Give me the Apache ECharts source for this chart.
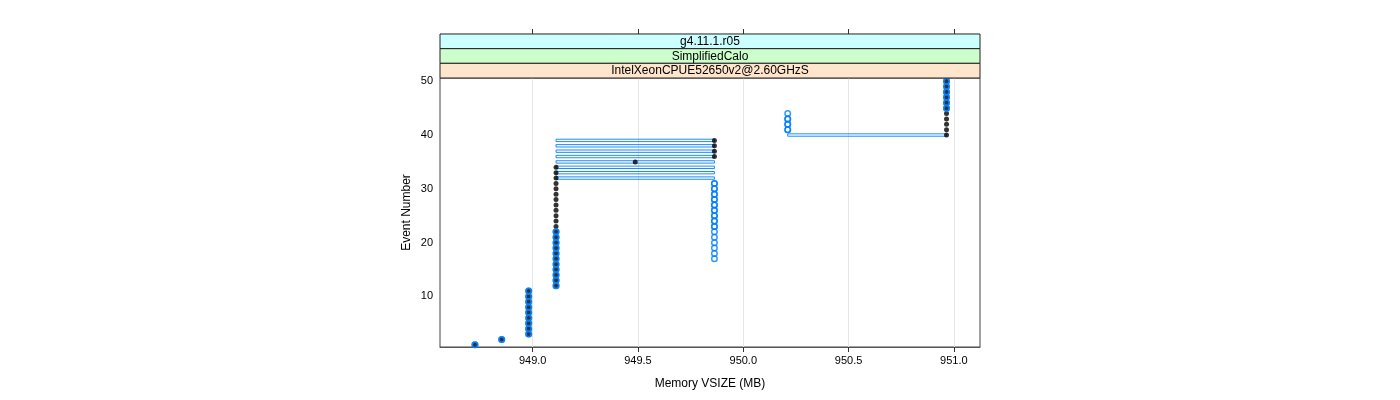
<!DOCTYPE html>
<html>
<head>
<meta charset="utf-8">
<script src="https://cdn.jsdelivr.net/npm/echarts@6/dist/echarts.min.js"></script>
<style>html,body{margin:0;padding:0;background:#fff}#c{width:1400px;height:400px}</style>
</head>
<body>
<div id="c"></div>
<script>
// ---- data ----
const eventNumbers = [1,2,3,4,5,6,7,8,9,10,11,12,13,14,15,16,17,18,19,20,21,22,23,24,25,26,27,28,29,30,31,32,33,34,35,36,37,38,39,40,41,42,43,44,45,46,47,48,49,50];
const blackVsize = [948.726,948.853,948.981,948.981,948.981,948.981,948.981,948.981,948.981,948.981,948.981,
  949.111,949.111,949.111,949.111,949.111,949.111,949.111,949.111,949.111,949.111,949.111,949.111,949.111,949.111,949.111,949.111,949.111,949.111,949.111,949.111,949.111,949.111,949.111,
  949.487,949.863,949.863,949.863,949.863,
  950.965,950.965,950.965,950.965,950.965,950.965,950.965,950.965,950.965,950.965,950.965];

const blueEvents = [1,2,3,4,5,6,7,8,9,10,11,12,13,14,15,16,17,18,19,20,21,22,
  17,18,19,20,21,22,23,24,25,26,27,28,29,30,31,41,42,43,44,45,46,47,48,49,50];
const blueVsize = [948.726,948.853,948.981,948.981,948.981,948.981,948.981,948.981,948.981,948.981,948.981,
  949.111,949.111,949.111,949.111,949.111,949.111,949.111,949.111,949.111,949.111,949.111,
  949.863,949.863,949.863,949.863,949.863,949.863,949.863,949.863,949.863,949.863,949.863,949.863,949.863,949.863,949.863,
  950.211,950.211,950.211,950.211,950.965,950.965,950.965,950.965,950.965,950.965];
// points that appear twice (overplotted, darker)
const blueRepeatEvents = [1,2,3,4,5,6,7,8,9,10,11,12,13,14,15,16,17,18,19,20,21,22,23,24,25,26,27,28,29,30,31,41,42,43,45,46,47,48,49,50];
const blueRepeatVsize = [948.726,948.853,948.981,948.981,948.981,948.981,948.981,948.981,948.981,948.981,948.981,
  949.111,949.111,949.111,949.111,949.111,949.111,949.111,949.111,949.111,949.111,949.111,
  949.863,949.863,949.863,949.863,949.863,949.863,949.863,949.863,949.863,
  950.211,950.211,950.211,950.965,950.965,950.965,950.965,950.965,950.965];

// back-and-forth blue path segments
const loopEvents = [32,33,34,35,36,37,38,39,40];
const loopFrom = [949.111,949.111,949.111,949.111,949.111,949.111,949.111,949.111,950.211];
const loopTo = [949.863,949.863,949.863,949.863,949.863,949.863,949.863,949.863,950.965];

const xTicks = [949.0, 949.5, 950.0, 950.5, 951.0];
const yTicks = [10, 20, 30, 40, 50];
const strips = ['g4.11.1.r05', 'SimplifiedCalo', 'IntelXeonCPUE52650v2@2.60GHzS'];

// ---- chart ----
const FONT = 'Liberation Sans';
const BLUE = '#0080ff';
const chart = echarts.init(document.getElementById('c'), null, {renderer: 'canvas'});

const blackData = eventNumbers.map((e, i) => [blackVsize[i], e]);
const blueData = blueEvents.map((e, i) => [blueVsize[i], e]);
const blueRepeatData = blueRepeatEvents.map((e, i) => [blueRepeatVsize[i], e]);
const halfH = 0.22;
const loopData = loopEvents.map((e, i) => ({
  coords: [[loopFrom[i], e + halfH], [loopTo[i], e + halfH], [loopTo[i], e - halfH], [loopFrom[i], e - halfH], [loopFrom[i], e + halfH]]
}));

const stripColors = ['#ccffff', '#ccffcc', '#ffe5cc'];
const panelL = 440, panelR = 980, panelTop = 78, stripH = 14.67;
const graphics = [];
strips.forEach((s, i) => {
  const y = panelTop - stripH * (strips.length - i);
  graphics.push({type: 'rect', shape: {x: panelL, y: y, width: panelR - panelL, height: stripH},
    style: {fill: stripColors[i], stroke: '#222', lineWidth: 1}, z: 10});
  graphics.push({type: 'text', x: (panelL + panelR) / 2, y: y + stripH / 2 + 0.5,
    style: {text: s, font: '12px "' + FONT + '"', fill: '#000', align: 'center', verticalAlign: 'middle'}, z: 11});
});

const option = {
  animation: false,
  textStyle: {fontFamily: FONT},
  graphic: graphics,
  grid: {left: panelL, right: 1400 - panelR, top: panelTop, bottom: 53, show: true, borderColor: '#444', borderWidth: 1, backgroundColor: 'transparent'},
  xAxis: [{
    type: 'value', min: 948.56, max: 951.124, position: 'bottom',
    name: 'Memory VSIZE (MB)', nameLocation: 'middle', nameGap: 31,
    nameTextStyle: {fontSize: 12, color: '#000', fontFamily: FONT},
    axisLine: {show: true, lineStyle: {color: '#555'}},
    axisTick: {show: true, customValues: xTicks, length: 5, lineStyle: {color: '#333'}},
    axisLabel: {show: true, customValues: xTicks, formatter: v => v.toFixed(1), fontSize: 11, color: '#000', margin: 8, fontFamily: FONT},
    splitLine: {show: false}
  }, {
    type: 'value', min: 948.56, max: 951.124, position: 'top', offset: 44,
    axisLine: {show: false},
    axisTick: {show: true, customValues: xTicks, length: 5, lineStyle: {color: '#333'}},
    axisLabel: {show: false},
    splitLine: {show: false}
  }],
  yAxis: {
    type: 'value', min: 0.6, max: 50.6,
    name: 'Event Number', nameLocation: 'middle', nameGap: 27,
    nameTextStyle: {fontSize: 12, color: '#000', fontFamily: FONT},
    axisLine: {show: false},
    axisTick: {show: false},
    axisLabel: {show: true, customValues: yTicks, fontSize: 11, color: '#000', margin: 7, fontFamily: FONT},
    splitLine: {show: false}
  },
  series: [
    {
      type: 'line', data: [], xAxisIndex: 0, silent: true, z: 0,
      markLine: {silent: true, symbol: 'none', z: 0, label: {show: false},
        lineStyle: {color: '#e6e6e6', width: 1, type: 'solid'},
        data: xTicks.map(v => ({xAxis: v}))}
    },
    {
      type: 'lines', coordinateSystem: 'cartesian2d', polyline: true, silent: true, z: 2,
      lineStyle: {color: BLUE, width: 1, opacity: 0.9},
      data: loopData
    },
    {
      type: 'scatter', data: blackData, symbol: 'circle', symbolSize: 5, z: 3,
      itemStyle: {color: '#000'}
    },
    {
      type: 'scatter', data: blueData, symbol: 'circle', symbolSize: 5.5, z: 4,
      itemStyle: {color: 'rgba(0,0,0,0)', borderColor: BLUE, borderWidth: 1.5, opacity: 0.8}
    },
    {
      type: 'scatter', data: blueRepeatData, symbol: 'circle', symbolSize: 5.5, z: 4,
      itemStyle: {color: 'rgba(0,0,0,0)', borderColor: BLUE, borderWidth: 1.5, opacity: 0.8}
    }
  ]
};
chart.setOption(option);
</script>
</body>
</html>
